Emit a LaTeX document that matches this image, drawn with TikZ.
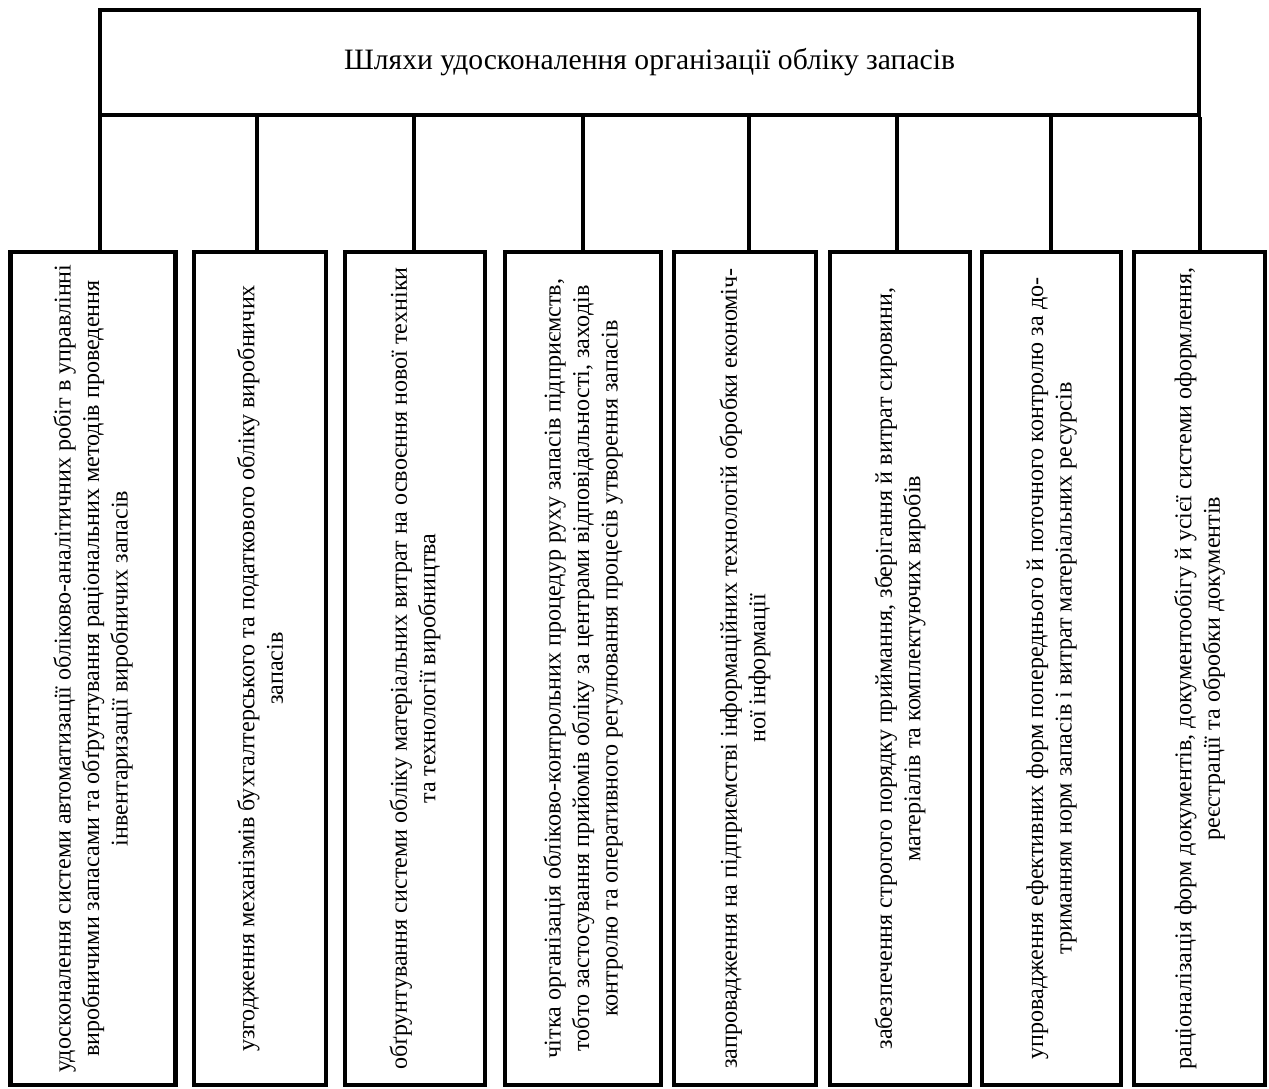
\documentclass[tikz,border=0pt]{standalone}
\usepackage{fontspec}
\setmainfont{Liberation Serif}
\tikzset{
  frame/.style={draw=black, line width=4.5pt},
  vbox/.style={frame, rotate=90, minimum width=833pt, inner sep=0pt, align=center,
    font=\fontsize{24.1}{28.5}\selectfont},
  link/.style={draw=black, line width=4pt},
}
\begin{document}
\begin{tikzpicture}[x=1pt,y=1pt]
\fill[white] (0,0) rectangle (1269,-1088);
\useasboundingbox (0,0) rectangle (1269,-1088);
\node[frame, minimum width=1099pt, minimum height=105pt, inner sep=0pt,
  font=\fontsize{29.6}{35}\selectfont] (top) at (649.5,-62.5)
  {Шляхи удосконалення організації обліку запасів};

\node[vbox, minimum height=165pt] (b1) at (93,-668.5)
  {удосконалення системи автоматизації обліково-аналітичних робіт в управлінні\\
   виробничими запасами та обґрунтування раціональних методів проведення\\
   інвентаризації виробничих запасів};
\node[vbox, minimum height=132pt] (b2) at (260,-668.5)
  {узгодження механізмів бухгалтерського та податкового обліку виробничих\\
   запасів};
\node[vbox, minimum height=140pt] (b3) at (415,-668.5)
  {обґрунтування системи обліку матеріальних витрат на освоєння нової техніки\\
   та технології виробництва};
\node[vbox, minimum height=156pt] (b4) at (583,-668.5)
  {чітка організація обліково-контрольних процедур руху запасів підприємств,\\
   тобто застосування прийомів обліку за центрами відповідальності, заходів\\
   контролю та оперативного регулювання процесів утворення запасів};
\node[vbox, minimum height=142pt] (b5) at (745,-668.5)
  {запровадження на підприємстві інформаційних технологій обробки економіч-\\
   ної інформації};
\node[vbox, minimum height=140pt] (b6) at (900,-668.5)
  {забезпечення строгого порядку приймання, зберігання й витрат сировини,\\
   матеріалів та комплектуючих виробів};
\node[vbox, minimum height=139pt] (b7) at (1051.5,-668.5)
  {упровадження ефективних форм попереднього й поточного контролю за до-\\
   триманням норм запасів і витрат матеріальних ресурсів};
\node[vbox, minimum height=131pt] (b8) at (1199.5,-668.5)
  {раціоналізація форм документів, документообігу й усієї системи оформлення,\\
   реєстрації та обробки документів};

\draw[link] ([xshift=7pt]b1.east) -- ([xshift=7pt]b1.east |- top.south);
\draw[link] ([xshift=-3pt]b2.east) -- ([xshift=-3pt]b2.east |- top.south);
\draw[link] ([xshift=-1pt]b3.east) -- ([xshift=-1pt]b3.east |- top.south);
\draw[link] (b4.east) -- (b4.east |- top.south);
\draw[link] ([xshift=4pt]b5.east) -- ([xshift=4pt]b5.east |- top.south);
\draw[link] ([xshift=-3pt]b6.east) -- ([xshift=-3pt]b6.east |- top.south);
\draw[link] ([xshift=-1pt]b7.east) -- ([xshift=-1pt]b7.east |- top.south);
\draw[link] (b8.east) -- (b8.east |- top.south);
\end{tikzpicture}
\end{document}
